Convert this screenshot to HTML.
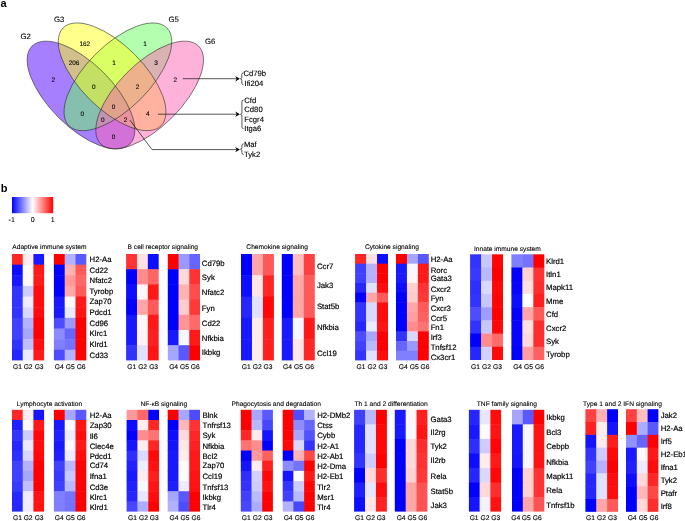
<!DOCTYPE html>
<html>
<head>
<meta charset="utf-8">
<title>Figure</title>
<style>
html,body{margin:0;padding:0;background:#fff;}
body{width:685px;height:521px;overflow:hidden;font-family:"Liberation Sans",sans-serif;}
svg{display:block;}
text{font-family:"Liberation Sans",sans-serif;fill:#000;text-rendering:geometricPrecision;}
svg{will-change:transform;}
.pl{font-size:11px;font-weight:bold;fill:#000;text-rendering:auto;}
.tt{font-size:6.65px;stroke:#000;stroke-width:0.1px;}
.gn{font-size:7.75px;stroke:#000;stroke-width:0.18px;}
.gl{font-size:6.7px;stroke:#000;stroke-width:0.14px;}
.vn{font-size:6.4px;stroke:#000;stroke-width:0.1px;}
.vl{font-size:7.8px;stroke:#000;stroke-width:0.08px;}
.vg{font-size:7.7px;stroke:#000;stroke-width:0.12px;}
.cb{font-size:7px;stroke:#000;stroke-width:0.08px;}
</style>
</head>
<body>
<svg width="685" height="521" viewBox="0 0 685 521">
<defs>
<linearGradient id="cbg" x1="0" x2="1" y1="0" y2="0">
<stop offset="0" stop-color="#0000ff"/><stop offset="0.5" stop-color="#ffffff"/><stop offset="1" stop-color="#ff0000"/>
</linearGradient>
</defs>
<rect x="0" y="0" width="685" height="521" fill="#fff"/>
<text class="pl" x="0.5" y="7">a</text>
<text class="pl" x="0.7" y="191.6">b</text>
<g id="venn">
<ellipse cx="81.0" cy="95.0" rx="69.2" ry="31.8" transform="rotate(45 81.0 95.0)" fill="#4b00ff" fill-opacity="0.5" stroke="none"/>
<ellipse cx="117.9" cy="76.8" rx="69.2" ry="31.8" transform="rotate(-45 117.9 76.8)" fill="#69ff5f" fill-opacity="0.5" stroke="none"/>
<ellipse cx="112.1" cy="76.8" rx="69.2" ry="31.8" transform="rotate(45 112.1 76.8)" fill="#ffff19" fill-opacity="0.5" stroke="none"/>
<ellipse cx="149.65" cy="95.0" rx="69.2" ry="31.8" transform="rotate(-45 149.65 95.0)" fill="#ff65b3" fill-opacity="0.5" stroke="none"/>
<ellipse cx="81.0" cy="95.0" rx="69.2" ry="31.8" transform="rotate(45 81.0 95.0)" fill="none" stroke="#222" stroke-width="0.55"/>
<ellipse cx="117.9" cy="76.8" rx="69.2" ry="31.8" transform="rotate(-45 117.9 76.8)" fill="none" stroke="#222" stroke-width="0.55"/>
<ellipse cx="112.1" cy="76.8" rx="69.2" ry="31.8" transform="rotate(45 112.1 76.8)" fill="none" stroke="#222" stroke-width="0.55"/>
<ellipse cx="149.65" cy="95.0" rx="69.2" ry="31.8" transform="rotate(-45 149.65 95.0)" fill="none" stroke="#222" stroke-width="0.55"/>
<text class="vn" x="84.8" y="46.4" text-anchor="middle">162</text>
<text class="vn" x="74" y="64.9" text-anchor="middle">206</text>
<text class="vn" x="53.4" y="82.1" text-anchor="middle">2</text>
<text class="vn" x="114" y="64.9" text-anchor="middle">1</text>
<text class="vn" x="145" y="46.4" text-anchor="middle">1</text>
<text class="vn" x="156" y="64.9" text-anchor="middle">3</text>
<text class="vn" x="93.7" y="89" text-anchor="middle">0</text>
<text class="vn" x="137.6" y="89" text-anchor="middle">2</text>
<text class="vn" x="113.6" y="108.8" text-anchor="middle">0</text>
<text class="vn" x="82.3" y="115.9" text-anchor="middle">0</text>
<text class="vn" x="147.7" y="115.9" text-anchor="middle">4</text>
<text class="vn" x="102.9" y="122.2" text-anchor="middle">0</text>
<text class="vn" x="125.6" y="122.2" text-anchor="middle">2</text>
<text class="vn" x="113.6" y="139.3" text-anchor="middle">0</text>
<text class="vn" x="175.2" y="82.1" text-anchor="middle">2</text>
<text class="vl" x="25.6" y="38.7" text-anchor="middle">G2</text>
<text class="vl" x="59.1" y="21.7" text-anchor="middle">G3</text>
<text class="vl" x="173.7" y="21.9" text-anchor="middle">G5</text>
<text class="vl" x="210.2" y="44" text-anchor="middle">G6</text>
<path d="M182.8 78.7 H237" fill="none" stroke="#111" stroke-width="0.7"/><path d="M239.9 78.7 l-4.7 -2.7 l1.5 2.7 l-1.5 2.7 z" fill="#000"/>
<path d="M158 114.2 H237" fill="none" stroke="#111" stroke-width="0.7"/><path d="M239.9 114.2 l-4.7 -2.7 l1.5 2.7 l-1.5 2.7 z" fill="#000"/>
<path d="M130 120.2 L152 149.6 H237" fill="none" stroke="#111" stroke-width="0.7"/><path d="M239.9 149.6 l-4.7 -2.7 l1.5 2.7 l-1.5 2.7 z" fill="#000"/>
<path d="M243.5 72.7 q-1.7 0.2 -1.7 1.9 V77.30000000000001 q0 1.3 -1.4 1.5 q1.4 0.2 1.4 1.5 V83.0 q0 1.7 1.7 1.9" fill="none" stroke="#111" stroke-width="0.7"/>
<path d="M243.6 100.0 q-1.7 0.2 -1.7 1.9 V112.9 q0 1.3 -1.4 1.5 q1.4 0.2 1.4 1.5 V126.9 q0 1.7 1.7 1.9" fill="none" stroke="#111" stroke-width="0.7"/>
<path d="M243.6 143.8 q-1.7 0.2 -1.7 1.9 V147.7 q0 1.3 -1.4 1.5 q1.4 0.2 1.4 1.5 V152.7 q0 1.7 1.7 1.9" fill="none" stroke="#111" stroke-width="0.7"/>
<text class="vg" x="243.4" y="75.95">Cd79b</text>
<text class="vg" x="244.6" y="85.75">Ifi204</text>
<text class="vg" x="244.3" y="102.85">Cfd</text>
<text class="vg" x="244.3" y="112.05">Cd80</text>
<text class="vg" x="244.3" y="121.65">Fcgr4</text>
<text class="vg" x="244.3" y="131.05">Itga6</text>
<text class="vg" x="243.9" y="147.45">Maf</text>
<text class="vg" x="244.0" y="157.25">Tyk2</text>
</g>
<g id="colorbar">
<rect x="12" y="197" width="41.2" height="16.2" fill="url(#cbg)"/>
<text class="cb" x="11.7" y="221.8" text-anchor="middle">-1</text>
<text class="cb" x="32.8" y="221.8" text-anchor="middle">0</text>
<text class="cb" x="52.8" y="221.8" text-anchor="middle">1</text>
</g>
<g id="heatmaps">
<g>
<text class="tt" x="49.4" y="249.25" text-anchor="middle">Adaptive immune system</text>
<g class="hm"><rect x="12" y="254" width="11.2" height="11.14" fill="#ff2626"/><rect x="22.7" y="254" width="11.2" height="11.14" fill="#ffebeb"/><rect x="33.4" y="254" width="10.7" height="11.14" fill="#1919ff"/><rect x="12" y="264.64" width="11.2" height="11.14" fill="#0d0dff"/><rect x="22.7" y="264.64" width="11.2" height="11.14" fill="#fffafa"/><rect x="33.4" y="264.64" width="10.7" height="11.14" fill="#ff1919"/><rect x="12" y="275.28" width="11.2" height="11.14" fill="#1919ff"/><rect x="22.7" y="275.28" width="11.2" height="11.14" fill="#fffafa"/><rect x="33.4" y="275.28" width="10.7" height="11.14" fill="#ff1919"/><rect x="12" y="285.92" width="11.2" height="11.14" fill="#3333ff"/><rect x="22.7" y="285.92" width="11.2" height="11.14" fill="#ccccff"/><rect x="33.4" y="285.92" width="10.7" height="11.14" fill="#ff0d0d"/><rect x="12" y="296.56" width="11.2" height="11.14" fill="#3333ff"/><rect x="22.7" y="296.56" width="11.2" height="11.14" fill="#ededff"/><rect x="33.4" y="296.56" width="10.7" height="11.14" fill="#ff0d0d"/><rect x="12" y="307.2" width="11.2" height="11.14" fill="#3333ff"/><rect x="22.7" y="307.2" width="11.2" height="11.14" fill="#d9d9ff"/><rect x="33.4" y="307.2" width="10.7" height="11.14" fill="#ff0d0d"/><rect x="12" y="317.84" width="11.2" height="11.14" fill="#4040ff"/><rect x="22.7" y="317.84" width="11.2" height="11.14" fill="#b2b2ff"/><rect x="33.4" y="317.84" width="10.7" height="11.14" fill="#ff0000"/><rect x="12" y="328.48" width="11.2" height="11.14" fill="#4040ff"/><rect x="22.7" y="328.48" width="11.2" height="11.14" fill="#a6a6ff"/><rect x="33.4" y="328.48" width="10.7" height="11.14" fill="#ff0000"/><rect x="12" y="339.12" width="11.2" height="11.14" fill="#3333ff"/><rect x="22.7" y="339.12" width="11.2" height="11.14" fill="#bfbfff"/><rect x="33.4" y="339.12" width="10.7" height="11.14" fill="#ff0d0d"/><rect x="12" y="349.76" width="11.2" height="10.64" fill="#2626ff"/><rect x="22.7" y="349.76" width="11.2" height="10.64" fill="#ebebff"/><rect x="33.4" y="349.76" width="10.7" height="10.64" fill="#ff1919"/><rect x="53.9" y="254" width="11.3" height="11.14" fill="#ff0000"/><rect x="64.7" y="254" width="11.3" height="11.14" fill="#b2b2ff"/><rect x="75.5" y="254" width="10.8" height="11.14" fill="#5959ff"/><rect x="53.9" y="264.64" width="11.3" height="11.14" fill="#0000ff"/><rect x="64.7" y="264.64" width="11.3" height="11.14" fill="#ffb2b2"/><rect x="75.5" y="264.64" width="10.8" height="11.14" fill="#ff5959"/><rect x="53.9" y="275.28" width="11.3" height="11.14" fill="#0000ff"/><rect x="64.7" y="275.28" width="11.3" height="11.14" fill="#ff9999"/><rect x="75.5" y="275.28" width="10.8" height="11.14" fill="#ff6666"/><rect x="53.9" y="285.92" width="11.3" height="11.14" fill="#0000ff"/><rect x="64.7" y="285.92" width="11.3" height="11.14" fill="#ffa6a6"/><rect x="75.5" y="285.92" width="10.8" height="11.14" fill="#ff5959"/><rect x="53.9" y="296.56" width="11.3" height="11.14" fill="#1919ff"/><rect x="64.7" y="296.56" width="11.3" height="11.14" fill="#fffafa"/><rect x="75.5" y="296.56" width="10.8" height="11.14" fill="#ff1919"/><rect x="53.9" y="307.2" width="11.3" height="11.14" fill="#1919ff"/><rect x="64.7" y="307.2" width="11.3" height="11.14" fill="#ebebff"/><rect x="75.5" y="307.2" width="10.8" height="11.14" fill="#ff1414"/><rect x="53.9" y="317.84" width="11.3" height="11.14" fill="#4d4dff"/><rect x="64.7" y="317.84" width="11.3" height="11.14" fill="#9999ff"/><rect x="75.5" y="317.84" width="10.8" height="11.14" fill="#ff0000"/><rect x="53.9" y="328.48" width="11.3" height="11.14" fill="#8c8cff"/><rect x="64.7" y="328.48" width="11.3" height="11.14" fill="#6666ff"/><rect x="75.5" y="328.48" width="10.8" height="11.14" fill="#ff0000"/><rect x="53.9" y="339.12" width="11.3" height="11.14" fill="#8080ff"/><rect x="64.7" y="339.12" width="11.3" height="11.14" fill="#7373ff"/><rect x="75.5" y="339.12" width="10.8" height="11.14" fill="#ff0000"/><rect x="53.9" y="349.76" width="11.3" height="10.64" fill="#4d4dff"/><rect x="64.7" y="349.76" width="11.3" height="10.64" fill="#b2b2ff"/><rect x="75.5" y="349.76" width="10.8" height="10.64" fill="#ff0000"/></g>
<text class="gn" x="89.55" y="262.47">H2-Aa</text>
<text class="gn" x="89.55" y="272.87">Cd22</text>
<text class="gn" x="89.55" y="282.97">Nfatc2</text>
<text class="gn" x="89.55" y="294.07">Tyrobp</text>
<text class="gn" x="89.55" y="304.47">Zap70</text>
<text class="gn" x="89.55" y="315.27">Pdcd1</text>
<text class="gn" x="89.55" y="325.57">Cd96</text>
<text class="gn" x="89.55" y="336.17">Klrc1</text>
<text class="gn" x="89.55" y="347.27">Klrd1</text>
<text class="gn" x="89.55" y="358.27">Cd33</text>
<text class="gl" x="17.4" y="369.2" text-anchor="middle">G1</text>
<text class="gl" x="28.1" y="369.2" text-anchor="middle">G2</text>
<text class="gl" x="39.1" y="369.2" text-anchor="middle">G3</text>
<text class="gl" x="59.2" y="369.2" text-anchor="middle">G4</text>
<text class="gl" x="70.2" y="369.2" text-anchor="middle">G5</text>
<text class="gl" x="81.1" y="369.2" text-anchor="middle">G6</text>
</g>
<g>
<text class="tt" x="162.8" y="249.25" text-anchor="middle">B cell receptor signaling</text>
<g class="hm"><rect x="126.1" y="254" width="11.37" height="15.7" fill="#ff3333"/><rect x="136.97" y="254" width="11.37" height="15.7" fill="#ffe0e0"/><rect x="147.83" y="254" width="10.87" height="15.7" fill="#0d0dff"/><rect x="126.1" y="269.2" width="11.37" height="15.7" fill="#0000ff"/><rect x="136.97" y="269.2" width="11.37" height="15.7" fill="#ff8c8c"/><rect x="147.83" y="269.2" width="10.87" height="15.7" fill="#ff6666"/><rect x="126.1" y="284.4" width="11.37" height="15.7" fill="#0d0dff"/><rect x="136.97" y="284.4" width="11.37" height="15.7" fill="#fff7f7"/><rect x="147.83" y="284.4" width="10.87" height="15.7" fill="#ff1919"/><rect x="126.1" y="299.6" width="11.37" height="15.7" fill="#0000ff"/><rect x="136.97" y="299.6" width="11.37" height="15.7" fill="#ffa6a6"/><rect x="147.83" y="299.6" width="10.87" height="15.7" fill="#ff5959"/><rect x="126.1" y="314.8" width="11.37" height="15.7" fill="#1919ff"/><rect x="136.97" y="314.8" width="11.37" height="15.7" fill="#fff7f7"/><rect x="147.83" y="314.8" width="10.87" height="15.7" fill="#ff1919"/><rect x="126.1" y="330" width="11.37" height="15.7" fill="#1919ff"/><rect x="136.97" y="330" width="11.37" height="15.7" fill="#fff2f2"/><rect x="147.83" y="330" width="10.87" height="15.7" fill="#ff1f1f"/><rect x="126.1" y="345.2" width="11.37" height="15.2" fill="#3333ff"/><rect x="136.97" y="345.2" width="11.37" height="15.2" fill="#e0e0ff"/><rect x="147.83" y="345.2" width="10.87" height="15.2" fill="#ff1414"/><rect x="167.8" y="254" width="11.23" height="15.7" fill="#ff0000"/><rect x="178.53" y="254" width="11.23" height="15.7" fill="#9999ff"/><rect x="189.27" y="254" width="10.73" height="15.7" fill="#6666ff"/><rect x="167.8" y="269.2" width="11.23" height="15.7" fill="#0000ff"/><rect x="178.53" y="269.2" width="11.23" height="15.7" fill="#ffd9d9"/><rect x="189.27" y="269.2" width="10.73" height="15.7" fill="#ff3333"/><rect x="167.8" y="284.4" width="11.23" height="15.7" fill="#0000ff"/><rect x="178.53" y="284.4" width="11.23" height="15.7" fill="#ffb2b2"/><rect x="189.27" y="284.4" width="10.73" height="15.7" fill="#ff4d4d"/><rect x="167.8" y="299.6" width="11.23" height="15.7" fill="#0000ff"/><rect x="178.53" y="299.6" width="11.23" height="15.7" fill="#ffcccc"/><rect x="189.27" y="299.6" width="10.73" height="15.7" fill="#ff3838"/><rect x="167.8" y="314.8" width="11.23" height="15.7" fill="#0000ff"/><rect x="178.53" y="314.8" width="11.23" height="15.7" fill="#ff9494"/><rect x="189.27" y="314.8" width="10.73" height="15.7" fill="#ff6b6b"/><rect x="167.8" y="330" width="11.23" height="15.7" fill="#1919ff"/><rect x="178.53" y="330" width="11.23" height="15.7" fill="#f7f7ff"/><rect x="189.27" y="330" width="10.73" height="15.7" fill="#ff1919"/><rect x="167.8" y="345.2" width="11.23" height="15.2" fill="#a6a6ff"/><rect x="178.53" y="345.2" width="11.23" height="15.2" fill="#5959ff"/><rect x="189.27" y="345.2" width="10.73" height="15.2" fill="#ff0000"/></g>
<text class="gn" x="201.85" y="266.47">Cd79b</text>
<text class="gn" x="201.85" y="279.97">Syk</text>
<text class="gn" x="201.85" y="294.67">Nfatc2</text>
<text class="gn" x="201.85" y="310.57">Fyn</text>
<text class="gn" x="201.85" y="326.47">Cd22</text>
<text class="gn" x="201.85" y="340.67">Nfkbia</text>
<text class="gn" x="201.85" y="355.37">Ikbkg</text>
<text class="gl" x="131.8" y="369.2" text-anchor="middle">G1</text>
<text class="gl" x="142.6" y="369.2" text-anchor="middle">G2</text>
<text class="gl" x="153.6" y="369.2" text-anchor="middle">G3</text>
<text class="gl" x="173.6" y="369.2" text-anchor="middle">G4</text>
<text class="gl" x="184.4" y="369.2" text-anchor="middle">G5</text>
<text class="gl" x="195.3" y="369.2" text-anchor="middle">G6</text>
</g>
<g>
<text class="tt" x="277.2" y="249.25" text-anchor="middle">Chemokine signaling</text>
<g class="hm"><rect x="241" y="254" width="11.47" height="21.78" fill="#0000ff"/><rect x="251.97" y="254" width="11.47" height="21.78" fill="#ffa6a6"/><rect x="262.93" y="254" width="10.97" height="21.78" fill="#ff5959"/><rect x="241" y="275.28" width="11.47" height="21.78" fill="#0d0dff"/><rect x="251.97" y="275.28" width="11.47" height="21.78" fill="#ffe6e6"/><rect x="262.93" y="275.28" width="10.97" height="21.78" fill="#ff2626"/><rect x="241" y="296.56" width="11.47" height="21.78" fill="#2626ff"/><rect x="251.97" y="296.56" width="11.47" height="21.78" fill="#e0e0ff"/><rect x="262.93" y="296.56" width="10.97" height="21.78" fill="#ff0808"/><rect x="241" y="317.84" width="11.47" height="21.78" fill="#1919ff"/><rect x="251.97" y="317.84" width="11.47" height="21.78" fill="#ffeded"/><rect x="262.93" y="317.84" width="10.97" height="21.78" fill="#ff1f1f"/><rect x="241" y="339.12" width="11.47" height="21.28" fill="#1919ff"/><rect x="251.97" y="339.12" width="11.47" height="21.28" fill="#ffeded"/><rect x="262.93" y="339.12" width="10.97" height="21.28" fill="#ff1f1f"/><rect x="281.8" y="254" width="11.5" height="21.78" fill="#0000ff"/><rect x="292.8" y="254" width="11.5" height="21.78" fill="#ffbfbf"/><rect x="303.8" y="254" width="11" height="21.78" fill="#ff4040"/><rect x="281.8" y="275.28" width="11.5" height="21.78" fill="#0000ff"/><rect x="292.8" y="275.28" width="11.5" height="21.78" fill="#ffa6a6"/><rect x="303.8" y="275.28" width="11" height="21.78" fill="#ff5959"/><rect x="281.8" y="296.56" width="11.5" height="21.78" fill="#0000ff"/><rect x="292.8" y="296.56" width="11.5" height="21.78" fill="#ffa6a6"/><rect x="303.8" y="296.56" width="11" height="21.78" fill="#ff5959"/><rect x="281.8" y="317.84" width="11.5" height="21.78" fill="#1919ff"/><rect x="292.8" y="317.84" width="11.5" height="21.78" fill="#f7f7ff"/><rect x="303.8" y="317.84" width="11" height="21.78" fill="#ff1919"/><rect x="281.8" y="339.12" width="11.5" height="21.28" fill="#1919ff"/><rect x="292.8" y="339.12" width="11.5" height="21.28" fill="#ffe6e6"/><rect x="303.8" y="339.12" width="11" height="21.28" fill="#ff2626"/></g>
<text class="gn" x="316.95" y="268.87">Ccr7</text>
<text class="gn" x="316.95" y="288.07">Jak3</text>
<text class="gn" x="316.95" y="309.07">Stat5b</text>
<text class="gn" x="316.95" y="330.07">Nfkbia</text>
<text class="gn" x="316.95" y="355.87">Ccl19</text>
<text class="gl" x="246.2" y="369.2" text-anchor="middle">G1</text>
<text class="gl" x="257.2" y="369.2" text-anchor="middle">G2</text>
<text class="gl" x="268" y="369.2" text-anchor="middle">G3</text>
<text class="gl" x="287.5" y="369.2" text-anchor="middle">G4</text>
<text class="gl" x="298.5" y="369.2" text-anchor="middle">G5</text>
<text class="gl" x="309.5" y="369.2" text-anchor="middle">G6</text>
</g>
<g>
<text class="tt" x="391.9" y="249.25" text-anchor="middle">Cytokine signaling</text>
<g class="hm"><rect x="355.1" y="254" width="11.47" height="10.17" fill="#ff2626"/><rect x="366.07" y="254" width="11.47" height="10.17" fill="#ffe0e0"/><rect x="377.03" y="254" width="10.97" height="10.17" fill="#0d0dff"/><rect x="355.1" y="263.67" width="11.47" height="10.17" fill="#4040ff"/><rect x="366.07" y="263.67" width="11.47" height="10.17" fill="#b2b2ff"/><rect x="377.03" y="263.67" width="10.97" height="10.17" fill="#ff0000"/><rect x="355.1" y="273.35" width="11.47" height="10.17" fill="#4040ff"/><rect x="366.07" y="273.35" width="11.47" height="10.17" fill="#b2b2ff"/><rect x="377.03" y="273.35" width="10.97" height="10.17" fill="#ff0000"/><rect x="355.1" y="283.02" width="11.47" height="10.17" fill="#2626ff"/><rect x="366.07" y="283.02" width="11.47" height="10.17" fill="#e0e0ff"/><rect x="377.03" y="283.02" width="10.97" height="10.17" fill="#ff0d0d"/><rect x="355.1" y="292.69" width="11.47" height="10.17" fill="#0000ff"/><rect x="366.07" y="292.69" width="11.47" height="10.17" fill="#ffa6a6"/><rect x="377.03" y="292.69" width="10.97" height="10.17" fill="#ff5959"/><rect x="355.1" y="302.36" width="11.47" height="10.17" fill="#3333ff"/><rect x="366.07" y="302.36" width="11.47" height="10.17" fill="#d9d9ff"/><rect x="377.03" y="302.36" width="10.97" height="10.17" fill="#ff0d0d"/><rect x="355.1" y="312.04" width="11.47" height="10.17" fill="#3333ff"/><rect x="366.07" y="312.04" width="11.47" height="10.17" fill="#d9d9ff"/><rect x="377.03" y="312.04" width="10.97" height="10.17" fill="#ff0d0d"/><rect x="355.1" y="321.71" width="11.47" height="10.17" fill="#2626ff"/><rect x="366.07" y="321.71" width="11.47" height="10.17" fill="#ebebff"/><rect x="377.03" y="321.71" width="10.97" height="10.17" fill="#ff1414"/><rect x="355.1" y="331.38" width="11.47" height="10.17" fill="#4d4dff"/><rect x="366.07" y="331.38" width="11.47" height="10.17" fill="#a6a6ff"/><rect x="377.03" y="331.38" width="10.97" height="10.17" fill="#ff0000"/><rect x="355.1" y="341.05" width="11.47" height="10.17" fill="#4040ff"/><rect x="366.07" y="341.05" width="11.47" height="10.17" fill="#b8b8ff"/><rect x="377.03" y="341.05" width="10.97" height="10.17" fill="#ff0000"/><rect x="355.1" y="350.73" width="11.47" height="9.67" fill="#3333ff"/><rect x="366.07" y="350.73" width="11.47" height="9.67" fill="#e0e0ff"/><rect x="377.03" y="350.73" width="10.97" height="9.67" fill="#ff0d0d"/><rect x="396" y="254" width="11.43" height="10.17" fill="#ff0000"/><rect x="406.93" y="254" width="11.43" height="10.17" fill="#a6a6ff"/><rect x="417.87" y="254" width="10.93" height="10.17" fill="#5959ff"/><rect x="396" y="263.67" width="11.43" height="10.17" fill="#1919ff"/><rect x="406.93" y="263.67" width="11.43" height="10.17" fill="#f7f7ff"/><rect x="417.87" y="263.67" width="10.93" height="10.17" fill="#ff1919"/><rect x="396" y="273.35" width="11.43" height="10.17" fill="#1919ff"/><rect x="406.93" y="273.35" width="11.43" height="10.17" fill="#fff7f7"/><rect x="417.87" y="273.35" width="10.93" height="10.17" fill="#ff1919"/><rect x="396" y="283.02" width="11.43" height="10.17" fill="#0d0dff"/><rect x="406.93" y="283.02" width="11.43" height="10.17" fill="#ffd1d1"/><rect x="417.87" y="283.02" width="10.93" height="10.17" fill="#ff3333"/><rect x="396" y="292.69" width="11.43" height="10.17" fill="#0000ff"/><rect x="406.93" y="292.69" width="11.43" height="10.17" fill="#ffcccc"/><rect x="417.87" y="292.69" width="10.93" height="10.17" fill="#ff3838"/><rect x="396" y="302.36" width="11.43" height="10.17" fill="#0000ff"/><rect x="406.93" y="302.36" width="11.43" height="10.17" fill="#ffa6a6"/><rect x="417.87" y="302.36" width="10.93" height="10.17" fill="#ff5959"/><rect x="396" y="312.04" width="11.43" height="10.17" fill="#0000ff"/><rect x="406.93" y="312.04" width="11.43" height="10.17" fill="#ff9e9e"/><rect x="417.87" y="312.04" width="10.93" height="10.17" fill="#ff6161"/><rect x="396" y="321.71" width="11.43" height="10.17" fill="#0000ff"/><rect x="406.93" y="321.71" width="11.43" height="10.17" fill="#ff8c8c"/><rect x="417.87" y="321.71" width="10.93" height="10.17" fill="#ff7373"/><rect x="396" y="331.38" width="11.43" height="10.17" fill="#3333ff"/><rect x="406.93" y="331.38" width="11.43" height="10.17" fill="#d9d9ff"/><rect x="417.87" y="331.38" width="10.93" height="10.17" fill="#ff0000"/><rect x="396" y="341.05" width="11.43" height="10.17" fill="#6666ff"/><rect x="406.93" y="341.05" width="11.43" height="10.17" fill="#9999ff"/><rect x="417.87" y="341.05" width="10.93" height="10.17" fill="#ff0000"/><rect x="396" y="350.73" width="11.43" height="9.67" fill="#8080ff"/><rect x="406.93" y="350.73" width="11.43" height="9.67" fill="#8080ff"/><rect x="417.87" y="350.73" width="10.93" height="9.67" fill="#ff0000"/></g>
<text class="gn" x="430.65" y="262.47">H2-Aa</text>
<text class="gn" x="430.65" y="272.67">Rorc</text>
<text class="gn" x="430.65" y="281.27">Gata3</text>
<text class="gn" x="430.65" y="291.67">Cxcr2</text>
<text class="gn" x="430.65" y="300.87">Fyn</text>
<text class="gn" x="430.65" y="310.57">Cxcr3</text>
<text class="gn" x="430.65" y="320.57">Ccr5</text>
<text class="gn" x="430.65" y="330.47">Fn1</text>
<text class="gn" x="430.65" y="339.57">Irf3</text>
<text class="gn" x="430.65" y="349.87">Tnfsf12</text>
<text class="gn" x="430.65" y="360.47">Cx3cr1</text>
<text class="gl" x="361" y="369.2" text-anchor="middle">G1</text>
<text class="gl" x="371.9" y="369.2" text-anchor="middle">G2</text>
<text class="gl" x="383" y="369.2" text-anchor="middle">G3</text>
<text class="gl" x="403.3" y="369.2" text-anchor="middle">G4</text>
<text class="gl" x="414.2" y="369.2" text-anchor="middle">G5</text>
<text class="gl" x="424.9" y="369.2" text-anchor="middle">G6</text>
</g>
<g>
<text class="tt" x="507.4" y="251.3" text-anchor="middle">Innate immune system</text>
<g class="hm"><rect x="470.1" y="254.3" width="11.47" height="13.71" fill="#3333ff"/><rect x="481.07" y="254.3" width="11.47" height="13.71" fill="#c7c7ff"/><rect x="492.03" y="254.3" width="10.97" height="13.71" fill="#ff0505"/><rect x="470.1" y="267.51" width="11.47" height="13.71" fill="#3838ff"/><rect x="481.07" y="267.51" width="11.47" height="13.71" fill="#b8b8ff"/><rect x="492.03" y="267.51" width="10.97" height="13.71" fill="#ff0000"/><rect x="470.1" y="280.73" width="11.47" height="13.71" fill="#2e2eff"/><rect x="481.07" y="280.73" width="11.47" height="13.71" fill="#d9d9ff"/><rect x="492.03" y="280.73" width="10.97" height="13.71" fill="#ff0808"/><rect x="470.1" y="293.94" width="11.47" height="13.71" fill="#3333ff"/><rect x="481.07" y="293.94" width="11.47" height="13.71" fill="#c7c7ff"/><rect x="492.03" y="293.94" width="10.97" height="13.71" fill="#ff0505"/><rect x="470.1" y="307.15" width="11.47" height="13.71" fill="#4d4dff"/><rect x="481.07" y="307.15" width="11.47" height="13.71" fill="#9e9eff"/><rect x="492.03" y="307.15" width="10.97" height="13.71" fill="#ff0000"/><rect x="470.1" y="320.36" width="11.47" height="13.71" fill="#3333ff"/><rect x="481.07" y="320.36" width="11.47" height="13.71" fill="#c7c7ff"/><rect x="492.03" y="320.36" width="10.97" height="13.71" fill="#ff0808"/><rect x="470.1" y="333.57" width="11.47" height="13.71" fill="#0000ff"/><rect x="481.07" y="333.57" width="11.47" height="13.71" fill="#ff8c8c"/><rect x="492.03" y="333.57" width="10.97" height="13.71" fill="#ff6b6b"/><rect x="470.1" y="346.79" width="11.47" height="13.21" fill="#2626ff"/><rect x="481.07" y="346.79" width="11.47" height="13.21" fill="#d1d1ff"/><rect x="492.03" y="346.79" width="10.97" height="13.21" fill="#ff0808"/><rect x="511.4" y="254.3" width="11.47" height="13.71" fill="#8080ff"/><rect x="522.37" y="254.3" width="11.47" height="13.71" fill="#7373ff"/><rect x="533.33" y="254.3" width="10.97" height="13.71" fill="#ff0000"/><rect x="511.4" y="267.51" width="11.47" height="13.71" fill="#0000ff"/><rect x="522.37" y="267.51" width="11.47" height="13.71" fill="#ffd1d1"/><rect x="533.33" y="267.51" width="10.97" height="13.71" fill="#ff3333"/><rect x="511.4" y="280.73" width="11.47" height="13.71" fill="#0505ff"/><rect x="522.37" y="280.73" width="11.47" height="13.71" fill="#ffe0e0"/><rect x="533.33" y="280.73" width="10.97" height="13.71" fill="#ff2e2e"/><rect x="511.4" y="293.94" width="11.47" height="13.71" fill="#0d0dff"/><rect x="522.37" y="293.94" width="11.47" height="13.71" fill="#ffffff"/><rect x="533.33" y="293.94" width="10.97" height="13.71" fill="#ff1f1f"/><rect x="511.4" y="307.15" width="11.47" height="13.71" fill="#0000ff"/><rect x="522.37" y="307.15" width="11.47" height="13.71" fill="#ffa6a6"/><rect x="533.33" y="307.15" width="10.97" height="13.71" fill="#ff5959"/><rect x="511.4" y="320.36" width="11.47" height="13.71" fill="#0505ff"/><rect x="522.37" y="320.36" width="11.47" height="13.71" fill="#ffe0e0"/><rect x="533.33" y="320.36" width="10.97" height="13.71" fill="#ff2e2e"/><rect x="511.4" y="333.57" width="11.47" height="13.71" fill="#0505ff"/><rect x="522.37" y="333.57" width="11.47" height="13.71" fill="#ffd9d9"/><rect x="533.33" y="333.57" width="10.97" height="13.71" fill="#ff2e2e"/><rect x="511.4" y="346.79" width="11.47" height="13.21" fill="#0000ff"/><rect x="522.37" y="346.79" width="11.47" height="13.21" fill="#ff9e9e"/><rect x="533.33" y="346.79" width="10.97" height="13.21" fill="#ff6161"/></g>
<text class="gn" x="546.05" y="263.77">Klrd1</text>
<text class="gn" x="546.05" y="276.57">Itln1</text>
<text class="gn" x="546.05" y="290.27">Mapk11</text>
<text class="gn" x="546.05" y="303.97">Mme</text>
<text class="gn" x="546.05" y="317.27">Cfd</text>
<text class="gn" x="546.05" y="331.37">Cxcr2</text>
<text class="gn" x="546.05" y="344.37">Syk</text>
<text class="gn" x="546.05" y="356.57">Tyrobp</text>
<text class="gl" x="475.5" y="369.2" text-anchor="middle">G1</text>
<text class="gl" x="486.5" y="369.2" text-anchor="middle">G2</text>
<text class="gl" x="497.4" y="369.2" text-anchor="middle">G3</text>
<text class="gl" x="517.6" y="369.2" text-anchor="middle">G4</text>
<text class="gl" x="528.5" y="369.2" text-anchor="middle">G5</text>
<text class="gl" x="539.5" y="369.2" text-anchor="middle">G6</text>
</g>
<g>
<text class="tt" x="49.5" y="406.3" text-anchor="middle">Lymphocyte activation</text>
<g class="hm"><rect x="12" y="409.8" width="11.2" height="10.68" fill="#ff2626"/><rect x="22.7" y="409.8" width="11.2" height="10.68" fill="#ffeded"/><rect x="33.4" y="409.8" width="10.7" height="10.68" fill="#1414ff"/><rect x="12" y="419.98" width="11.2" height="10.68" fill="#1f1fff"/><rect x="22.7" y="419.98" width="11.2" height="10.68" fill="#fffafa"/><rect x="33.4" y="419.98" width="10.7" height="10.68" fill="#ff1919"/><rect x="12" y="430.16" width="11.2" height="10.68" fill="#3333ff"/><rect x="22.7" y="430.16" width="11.2" height="10.68" fill="#ccccff"/><rect x="33.4" y="430.16" width="10.7" height="10.68" fill="#ff0808"/><rect x="12" y="440.34" width="11.2" height="10.68" fill="#2626ff"/><rect x="22.7" y="440.34" width="11.2" height="10.68" fill="#ebebff"/><rect x="33.4" y="440.34" width="10.7" height="10.68" fill="#ff0d0d"/><rect x="12" y="450.52" width="11.2" height="10.68" fill="#2e2eff"/><rect x="22.7" y="450.52" width="11.2" height="10.68" fill="#d9d9ff"/><rect x="33.4" y="450.52" width="10.7" height="10.68" fill="#ff0808"/><rect x="12" y="460.7" width="11.2" height="10.68" fill="#4040ff"/><rect x="22.7" y="460.7" width="11.2" height="10.68" fill="#b2b2ff"/><rect x="33.4" y="460.7" width="10.7" height="10.68" fill="#ff0000"/><rect x="12" y="470.88" width="11.2" height="10.68" fill="#4040ff"/><rect x="22.7" y="470.88" width="11.2" height="10.68" fill="#a6a6ff"/><rect x="33.4" y="470.88" width="10.7" height="10.68" fill="#ff0000"/><rect x="12" y="481.06" width="11.2" height="10.68" fill="#3838ff"/><rect x="22.7" y="481.06" width="11.2" height="10.68" fill="#bfbfff"/><rect x="33.4" y="481.06" width="10.7" height="10.68" fill="#ff0000"/><rect x="12" y="491.24" width="11.2" height="10.68" fill="#2626ff"/><rect x="22.7" y="491.24" width="11.2" height="10.68" fill="#ededff"/><rect x="33.4" y="491.24" width="10.7" height="10.68" fill="#ff1212"/><rect x="12" y="501.42" width="11.2" height="10.18" fill="#2626ff"/><rect x="22.7" y="501.42" width="11.2" height="10.18" fill="#ededff"/><rect x="33.4" y="501.42" width="10.7" height="10.18" fill="#ff1212"/><rect x="53.9" y="409.8" width="11.3" height="10.68" fill="#ff0000"/><rect x="64.7" y="409.8" width="11.3" height="10.68" fill="#a6a6ff"/><rect x="75.5" y="409.8" width="10.8" height="10.68" fill="#5959ff"/><rect x="53.9" y="419.98" width="11.3" height="10.68" fill="#1919ff"/><rect x="64.7" y="419.98" width="11.3" height="10.68" fill="#fafaff"/><rect x="75.5" y="419.98" width="10.8" height="10.68" fill="#ff1414"/><rect x="53.9" y="430.16" width="11.3" height="10.68" fill="#1f1fff"/><rect x="64.7" y="430.16" width="11.3" height="10.68" fill="#ededff"/><rect x="75.5" y="430.16" width="10.8" height="10.68" fill="#ff0d0d"/><rect x="53.9" y="440.34" width="11.3" height="10.68" fill="#1919ff"/><rect x="64.7" y="440.34" width="11.3" height="10.68" fill="#fffafa"/><rect x="75.5" y="440.34" width="10.8" height="10.68" fill="#ff1919"/><rect x="53.9" y="450.52" width="11.3" height="10.68" fill="#1f1fff"/><rect x="64.7" y="450.52" width="11.3" height="10.68" fill="#ededff"/><rect x="75.5" y="450.52" width="10.8" height="10.68" fill="#ff0d0d"/><rect x="53.9" y="460.7" width="11.3" height="10.68" fill="#4040ff"/><rect x="64.7" y="460.7" width="11.3" height="10.68" fill="#b8b8ff"/><rect x="75.5" y="460.7" width="10.8" height="10.68" fill="#ff0000"/><rect x="53.9" y="470.88" width="11.3" height="10.68" fill="#3838ff"/><rect x="64.7" y="470.88" width="11.3" height="10.68" fill="#c7c7ff"/><rect x="75.5" y="470.88" width="10.8" height="10.68" fill="#ff0000"/><rect x="53.9" y="481.06" width="11.3" height="10.68" fill="#4040ff"/><rect x="64.7" y="481.06" width="11.3" height="10.68" fill="#b8b8ff"/><rect x="75.5" y="481.06" width="10.8" height="10.68" fill="#ff0000"/><rect x="53.9" y="491.24" width="11.3" height="10.68" fill="#8080ff"/><rect x="64.7" y="491.24" width="11.3" height="10.68" fill="#7373ff"/><rect x="75.5" y="491.24" width="10.8" height="10.68" fill="#ff0000"/><rect x="53.9" y="501.42" width="11.3" height="10.18" fill="#8080ff"/><rect x="64.7" y="501.42" width="11.3" height="10.18" fill="#7373ff"/><rect x="75.5" y="501.42" width="10.8" height="10.18" fill="#ff0000"/></g>
<text class="gn" x="89.65" y="417.77">H2-Aa</text>
<text class="gn" x="89.65" y="428.27">Zap30</text>
<text class="gn" x="89.65" y="438.77">Il6</text>
<text class="gn" x="89.65" y="448.77">Clec4e</text>
<text class="gn" x="89.65" y="458.77">Pdcd1</text>
<text class="gn" x="89.65" y="468.37">Cd74</text>
<text class="gn" x="89.65" y="479.07">Ifna1</text>
<text class="gn" x="89.65" y="490.17">Cd3e</text>
<text class="gn" x="89.65" y="499.97">Klrc1</text>
<text class="gn" x="89.65" y="509.97">Klrd1</text>
<text class="gl" x="17.4" y="519.9" text-anchor="middle">G1</text>
<text class="gl" x="28.1" y="519.9" text-anchor="middle">G2</text>
<text class="gl" x="39.1" y="519.9" text-anchor="middle">G3</text>
<text class="gl" x="59.2" y="519.9" text-anchor="middle">G4</text>
<text class="gl" x="70.2" y="519.9" text-anchor="middle">G5</text>
<text class="gl" x="81.1" y="519.9" text-anchor="middle">G6</text>
</g>
<g>
<text class="tt" x="163.9" y="406.3" text-anchor="middle">NF-<tspan font-size="6.1">κ</tspan>B signaling</text>
<g class="hm"><rect x="126.6" y="409.8" width="11.33" height="10.68" fill="#ff9999"/><rect x="137.43" y="409.8" width="11.33" height="10.68" fill="#ff6666"/><rect x="148.27" y="409.8" width="10.83" height="10.68" fill="#0000ff"/><rect x="126.6" y="419.98" width="11.33" height="10.68" fill="#0d0dff"/><rect x="137.43" y="419.98" width="11.33" height="10.68" fill="#ffeded"/><rect x="148.27" y="419.98" width="10.83" height="10.68" fill="#ff2626"/><rect x="126.6" y="430.16" width="11.33" height="10.68" fill="#0000ff"/><rect x="137.43" y="430.16" width="11.33" height="10.68" fill="#ff8c8c"/><rect x="148.27" y="430.16" width="10.83" height="10.68" fill="#ff7373"/><rect x="126.6" y="440.34" width="11.33" height="10.68" fill="#1414ff"/><rect x="137.43" y="440.34" width="11.33" height="10.68" fill="#ffeded"/><rect x="148.27" y="440.34" width="10.83" height="10.68" fill="#ff2626"/><rect x="126.6" y="450.52" width="11.33" height="10.68" fill="#2e2eff"/><rect x="137.43" y="450.52" width="11.33" height="10.68" fill="#d9d9ff"/><rect x="148.27" y="450.52" width="10.83" height="10.68" fill="#ff0808"/><rect x="126.6" y="460.7" width="11.33" height="10.68" fill="#2121ff"/><rect x="137.43" y="460.7" width="11.33" height="10.68" fill="#ededff"/><rect x="148.27" y="460.7" width="10.83" height="10.68" fill="#ff1212"/><rect x="126.6" y="470.88" width="11.33" height="10.68" fill="#1919ff"/><rect x="137.43" y="470.88" width="11.33" height="10.68" fill="#ffeded"/><rect x="148.27" y="470.88" width="10.83" height="10.68" fill="#ff1f1f"/><rect x="126.6" y="481.06" width="11.33" height="10.68" fill="#1f1fff"/><rect x="137.43" y="481.06" width="11.33" height="10.68" fill="#f7f7ff"/><rect x="148.27" y="481.06" width="10.83" height="10.68" fill="#ff1414"/><rect x="126.6" y="491.24" width="11.33" height="10.68" fill="#2626ff"/><rect x="137.43" y="491.24" width="11.33" height="10.68" fill="#e6e6ff"/><rect x="148.27" y="491.24" width="10.83" height="10.68" fill="#ff0d0d"/><rect x="126.6" y="501.42" width="11.33" height="10.18" fill="#4747ff"/><rect x="137.43" y="501.42" width="11.33" height="10.18" fill="#adadff"/><rect x="148.27" y="501.42" width="10.83" height="10.18" fill="#ff0000"/><rect x="167.7" y="409.8" width="11.27" height="10.68" fill="#ff0000"/><rect x="178.47" y="409.8" width="11.27" height="10.68" fill="#a6a6ff"/><rect x="189.23" y="409.8" width="10.77" height="10.68" fill="#4d4dff"/><rect x="167.7" y="419.98" width="11.27" height="10.68" fill="#0000ff"/><rect x="178.47" y="419.98" width="11.27" height="10.68" fill="#ffb8b8"/><rect x="189.23" y="419.98" width="10.77" height="10.68" fill="#ff3333"/><rect x="167.7" y="430.16" width="11.27" height="10.68" fill="#0d0dff"/><rect x="178.47" y="430.16" width="11.27" height="10.68" fill="#ffd9d9"/><rect x="189.23" y="430.16" width="10.77" height="10.68" fill="#ff2626"/><rect x="167.7" y="440.34" width="11.27" height="10.68" fill="#1414ff"/><rect x="178.47" y="440.34" width="11.27" height="10.68" fill="#ffe6e6"/><rect x="189.23" y="440.34" width="10.77" height="10.68" fill="#ff2121"/><rect x="167.7" y="450.52" width="11.27" height="10.68" fill="#1919ff"/><rect x="178.47" y="450.52" width="11.27" height="10.68" fill="#ffeded"/><rect x="189.23" y="450.52" width="10.77" height="10.68" fill="#ff1919"/><rect x="167.7" y="460.7" width="11.27" height="10.68" fill="#1919ff"/><rect x="178.47" y="460.7" width="11.27" height="10.68" fill="#fffafa"/><rect x="189.23" y="460.7" width="10.77" height="10.68" fill="#ff1919"/><rect x="167.7" y="470.88" width="11.27" height="10.68" fill="#1919ff"/><rect x="178.47" y="470.88" width="11.27" height="10.68" fill="#fafaff"/><rect x="189.23" y="470.88" width="10.77" height="10.68" fill="#ff1414"/><rect x="167.7" y="481.06" width="11.27" height="10.68" fill="#1f1fff"/><rect x="178.47" y="481.06" width="11.27" height="10.68" fill="#ededff"/><rect x="189.23" y="481.06" width="10.77" height="10.68" fill="#ff1212"/><rect x="167.7" y="491.24" width="11.27" height="10.68" fill="#a6a6ff"/><rect x="178.47" y="491.24" width="11.27" height="10.68" fill="#5959ff"/><rect x="189.23" y="491.24" width="10.77" height="10.68" fill="#ff0000"/><rect x="167.7" y="501.42" width="11.27" height="10.18" fill="#b2b2ff"/><rect x="178.47" y="501.42" width="11.27" height="10.18" fill="#4d4dff"/><rect x="189.23" y="501.42" width="10.77" height="10.18" fill="#ff0000"/></g>
<text class="gn" x="202.45" y="417.77">Blnk</text>
<text class="gn" x="202.45" y="428.27">Tnfrsf13</text>
<text class="gn" x="202.45" y="438.27">Syk</text>
<text class="gn" x="202.45" y="449.37">Nfkbia</text>
<text class="gn" x="202.45" y="458.97">Bcl2</text>
<text class="gn" x="202.45" y="468.37">Zap70</text>
<text class="gn" x="202.45" y="479.47">Ccl19</text>
<text class="gn" x="202.45" y="489.77">Tnfsf13</text>
<text class="gn" x="202.45" y="499.77">Ikbkg</text>
<text class="gn" x="202.45" y="509.97">Tlr4</text>
<text class="gl" x="132.4" y="519.9" text-anchor="middle">G1</text>
<text class="gl" x="143.4" y="519.9" text-anchor="middle">G2</text>
<text class="gl" x="154.3" y="519.9" text-anchor="middle">G3</text>
<text class="gl" x="174" y="519.9" text-anchor="middle">G4</text>
<text class="gl" x="185" y="519.9" text-anchor="middle">G5</text>
<text class="gl" x="195.9" y="519.9" text-anchor="middle">G6</text>
</g>
<g>
<text class="tt" x="276.2" y="406.3" text-anchor="middle">Phagocytosis and degradation</text>
<g class="hm"><rect x="240.8" y="409.8" width="11.2" height="10.68" fill="#ff0000"/><rect x="251.5" y="409.8" width="11.2" height="10.68" fill="#a6a6ff"/><rect x="262.2" y="409.8" width="10.7" height="10.68" fill="#5959ff"/><rect x="240.8" y="419.98" width="11.2" height="10.68" fill="#ff0000"/><rect x="251.5" y="419.98" width="11.2" height="10.68" fill="#b8b8ff"/><rect x="262.2" y="419.98" width="10.7" height="10.68" fill="#4747ff"/><rect x="240.8" y="430.16" width="11.2" height="10.68" fill="#ff2626"/><rect x="251.5" y="430.16" width="11.2" height="10.68" fill="#ffebeb"/><rect x="262.2" y="430.16" width="10.7" height="10.68" fill="#1414ff"/><rect x="240.8" y="440.34" width="11.2" height="10.68" fill="#ff7373"/><rect x="251.5" y="440.34" width="11.2" height="10.68" fill="#ff8c8c"/><rect x="262.2" y="440.34" width="10.7" height="10.68" fill="#0000ff"/><rect x="240.8" y="450.52" width="11.2" height="10.68" fill="#0000ff"/><rect x="251.5" y="450.52" width="11.2" height="10.68" fill="#ff9999"/><rect x="262.2" y="450.52" width="10.7" height="10.68" fill="#ff6161"/><rect x="240.8" y="460.7" width="11.2" height="10.68" fill="#1414ff"/><rect x="251.5" y="460.7" width="11.2" height="10.68" fill="#ffeded"/><rect x="262.2" y="460.7" width="10.7" height="10.68" fill="#ff1f1f"/><rect x="240.8" y="470.88" width="11.2" height="10.68" fill="#2e2eff"/><rect x="251.5" y="470.88" width="11.2" height="10.68" fill="#d1d1ff"/><rect x="262.2" y="470.88" width="10.7" height="10.68" fill="#ff0808"/><rect x="240.8" y="481.06" width="11.2" height="10.68" fill="#3333ff"/><rect x="251.5" y="481.06" width="11.2" height="10.68" fill="#ccccff"/><rect x="262.2" y="481.06" width="10.7" height="10.68" fill="#ff1414"/><rect x="240.8" y="491.24" width="11.2" height="10.68" fill="#4040ff"/><rect x="251.5" y="491.24" width="11.2" height="10.68" fill="#babaff"/><rect x="262.2" y="491.24" width="10.7" height="10.68" fill="#ff0000"/><rect x="240.8" y="501.42" width="11.2" height="10.18" fill="#4747ff"/><rect x="251.5" y="501.42" width="11.2" height="10.18" fill="#adadff"/><rect x="262.2" y="501.42" width="10.7" height="10.18" fill="#ff0000"/><rect x="282.7" y="409.8" width="11.2" height="10.68" fill="#ff0000"/><rect x="293.4" y="409.8" width="11.2" height="10.68" fill="#4d4dff"/><rect x="304.1" y="409.8" width="10.7" height="10.68" fill="#b2b2ff"/><rect x="282.7" y="419.98" width="11.2" height="10.68" fill="#ff0000"/><rect x="293.4" y="419.98" width="11.2" height="10.68" fill="#8c8cff"/><rect x="304.1" y="419.98" width="10.7" height="10.68" fill="#6666ff"/><rect x="282.7" y="430.16" width="11.2" height="10.68" fill="#ff0000"/><rect x="293.4" y="430.16" width="11.2" height="10.68" fill="#a6a6ff"/><rect x="304.1" y="430.16" width="10.7" height="10.68" fill="#5252ff"/><rect x="282.7" y="440.34" width="11.2" height="10.68" fill="#ff0808"/><rect x="293.4" y="440.34" width="11.2" height="10.68" fill="#d9d9ff"/><rect x="304.1" y="440.34" width="10.7" height="10.68" fill="#3333ff"/><rect x="282.7" y="450.52" width="11.2" height="10.68" fill="#0000ff"/><rect x="293.4" y="450.52" width="11.2" height="10.68" fill="#ffb2b2"/><rect x="304.1" y="450.52" width="10.7" height="10.68" fill="#ff4747"/><rect x="282.7" y="460.7" width="11.2" height="10.68" fill="#8c8cff"/><rect x="293.4" y="460.7" width="11.2" height="10.68" fill="#7373ff"/><rect x="304.1" y="460.7" width="10.7" height="10.68" fill="#ff0000"/><rect x="282.7" y="470.88" width="11.2" height="10.68" fill="#1414ff"/><rect x="293.4" y="470.88" width="11.2" height="10.68" fill="#fffafa"/><rect x="304.1" y="470.88" width="10.7" height="10.68" fill="#ff1919"/><rect x="282.7" y="481.06" width="11.2" height="10.68" fill="#3333ff"/><rect x="293.4" y="481.06" width="11.2" height="10.68" fill="#ccccff"/><rect x="304.1" y="481.06" width="10.7" height="10.68" fill="#ff0505"/><rect x="282.7" y="491.24" width="11.2" height="10.68" fill="#4040ff"/><rect x="293.4" y="491.24" width="11.2" height="10.68" fill="#b8b8ff"/><rect x="304.1" y="491.24" width="10.7" height="10.68" fill="#ff0000"/><rect x="282.7" y="501.42" width="11.2" height="10.18" fill="#b2b2ff"/><rect x="293.4" y="501.42" width="11.2" height="10.18" fill="#4747ff"/><rect x="304.1" y="501.42" width="10.7" height="10.18" fill="#ff0000"/></g>
<text class="gn" x="317.15" y="417.97">H2-DMb2</text>
<text class="gn" x="317.15" y="428.07">Ctss</text>
<text class="gn" x="317.15" y="438.07">Cybb</text>
<text class="gn" x="317.15" y="448.57">H2-A1</text>
<text class="gn" x="317.15" y="458.97">H2-Ab1</text>
<text class="gn" x="317.15" y="468.97">H2-Dma</text>
<text class="gn" x="317.15" y="479.47">H2-Eb1</text>
<text class="gn" x="317.15" y="489.77">Tlr2</text>
<text class="gn" x="317.15" y="499.77">Msr1</text>
<text class="gn" x="317.15" y="509.97">Tlr4</text>
<text class="gl" x="246.2" y="519.9" text-anchor="middle">G1</text>
<text class="gl" x="257.2" y="519.9" text-anchor="middle">G2</text>
<text class="gl" x="268.1" y="519.9" text-anchor="middle">G3</text>
<text class="gl" x="288.1" y="519.9" text-anchor="middle">G4</text>
<text class="gl" x="299.1" y="519.9" text-anchor="middle">G5</text>
<text class="gl" x="310" y="519.9" text-anchor="middle">G6</text>
</g>
<g>
<text class="tt" x="391.1" y="406.3" text-anchor="middle">Th 1 and 2 differentiation</text>
<g class="hm"><rect x="354.1" y="409.8" width="11.43" height="15.04" fill="#4040ff"/><rect x="365.03" y="409.8" width="11.43" height="15.04" fill="#b8b8ff"/><rect x="375.97" y="409.8" width="10.93" height="15.04" fill="#ff0000"/><rect x="354.1" y="424.34" width="11.43" height="15.04" fill="#2626ff"/><rect x="365.03" y="424.34" width="11.43" height="15.04" fill="#e0e0ff"/><rect x="375.97" y="424.34" width="10.93" height="15.04" fill="#ff0808"/><rect x="354.1" y="438.89" width="11.43" height="15.04" fill="#2626ff"/><rect x="365.03" y="438.89" width="11.43" height="15.04" fill="#e0e0ff"/><rect x="375.97" y="438.89" width="10.93" height="15.04" fill="#ff0808"/><rect x="354.1" y="453.43" width="11.43" height="15.04" fill="#3333ff"/><rect x="365.03" y="453.43" width="11.43" height="15.04" fill="#ccccff"/><rect x="375.97" y="453.43" width="10.93" height="15.04" fill="#ff0000"/><rect x="354.1" y="467.97" width="11.43" height="15.04" fill="#0000ff"/><rect x="365.03" y="467.97" width="11.43" height="15.04" fill="#ffd9d9"/><rect x="375.97" y="467.97" width="10.93" height="15.04" fill="#ff2e2e"/><rect x="354.1" y="482.51" width="11.43" height="15.04" fill="#1f1fff"/><rect x="365.03" y="482.51" width="11.43" height="15.04" fill="#e6e6ff"/><rect x="375.97" y="482.51" width="10.93" height="15.04" fill="#ff0d0d"/><rect x="354.1" y="497.06" width="11.43" height="14.54" fill="#0d0dff"/><rect x="365.03" y="497.06" width="11.43" height="14.54" fill="#ffe6e6"/><rect x="375.97" y="497.06" width="10.93" height="14.54" fill="#ff2121"/><rect x="394.8" y="409.8" width="11.37" height="15.04" fill="#1919ff"/><rect x="405.67" y="409.8" width="11.37" height="15.04" fill="#fff7f7"/><rect x="416.53" y="409.8" width="10.87" height="15.04" fill="#ff1f1f"/><rect x="394.8" y="424.34" width="11.37" height="15.04" fill="#1919ff"/><rect x="405.67" y="424.34" width="11.37" height="15.04" fill="#f7f7ff"/><rect x="416.53" y="424.34" width="10.87" height="15.04" fill="#ff1414"/><rect x="394.8" y="438.89" width="11.37" height="15.04" fill="#0000ff"/><rect x="405.67" y="438.89" width="11.37" height="15.04" fill="#ffd9d9"/><rect x="416.53" y="438.89" width="10.87" height="15.04" fill="#ff2e2e"/><rect x="394.8" y="453.43" width="11.37" height="15.04" fill="#0000ff"/><rect x="405.67" y="453.43" width="11.37" height="15.04" fill="#ffd9d9"/><rect x="416.53" y="453.43" width="10.87" height="15.04" fill="#ff3333"/><rect x="394.8" y="467.97" width="11.37" height="15.04" fill="#0000ff"/><rect x="405.67" y="467.97" width="11.37" height="15.04" fill="#ffd1d1"/><rect x="416.53" y="467.97" width="10.87" height="15.04" fill="#ff3838"/><rect x="394.8" y="482.51" width="11.37" height="15.04" fill="#0000ff"/><rect x="405.67" y="482.51" width="11.37" height="15.04" fill="#ffa6a6"/><rect x="416.53" y="482.51" width="10.87" height="15.04" fill="#ff5252"/><rect x="394.8" y="497.06" width="11.37" height="14.54" fill="#0000ff"/><rect x="405.67" y="497.06" width="11.37" height="14.54" fill="#ffa6a6"/><rect x="416.53" y="497.06" width="10.87" height="14.54" fill="#ff5252"/></g>
<text class="gn" x="430.55" y="421.57">Gata3</text>
<text class="gn" x="430.55" y="435.17">Il2rg</text>
<text class="gn" x="430.55" y="449.37">Tyk2</text>
<text class="gn" x="430.55" y="463.47">Il2rb</text>
<text class="gn" x="430.55" y="479.07">Rela</text>
<text class="gn" x="430.55" y="493.77">Stat5b</text>
<text class="gn" x="430.55" y="507.97">Jak3</text>
<text class="gl" x="359.5" y="519.9" text-anchor="middle">G1</text>
<text class="gl" x="370.4" y="519.9" text-anchor="middle">G2</text>
<text class="gl" x="381.1" y="519.9" text-anchor="middle">G3</text>
<text class="gl" x="401.1" y="519.9" text-anchor="middle">G4</text>
<text class="gl" x="412" y="519.9" text-anchor="middle">G5</text>
<text class="gl" x="422.7" y="519.9" text-anchor="middle">G6</text>
</g>
<g>
<text class="tt" x="506.9" y="406.3" text-anchor="middle">TNF family signaling</text>
<g class="hm"><rect x="468.9" y="409.8" width="11.23" height="15.04" fill="#2626ff"/><rect x="479.63" y="409.8" width="11.23" height="15.04" fill="#e6e6ff"/><rect x="490.37" y="409.8" width="10.73" height="15.04" fill="#ff0d0d"/><rect x="468.9" y="424.34" width="11.23" height="15.04" fill="#1919ff"/><rect x="479.63" y="424.34" width="11.23" height="15.04" fill="#fafaff"/><rect x="490.37" y="424.34" width="10.73" height="15.04" fill="#ff1414"/><rect x="468.9" y="438.89" width="11.23" height="15.04" fill="#2e2eff"/><rect x="479.63" y="438.89" width="11.23" height="15.04" fill="#ccccff"/><rect x="490.37" y="438.89" width="10.73" height="15.04" fill="#ff0505"/><rect x="468.9" y="453.43" width="11.23" height="15.04" fill="#0d0dff"/><rect x="479.63" y="453.43" width="11.23" height="15.04" fill="#ffeded"/><rect x="490.37" y="453.43" width="10.73" height="15.04" fill="#ff1919"/><rect x="468.9" y="467.97" width="11.23" height="15.04" fill="#2626ff"/><rect x="479.63" y="467.97" width="11.23" height="15.04" fill="#d9d9ff"/><rect x="490.37" y="467.97" width="10.73" height="15.04" fill="#ff0808"/><rect x="468.9" y="482.51" width="11.23" height="15.04" fill="#0000ff"/><rect x="479.63" y="482.51" width="11.23" height="15.04" fill="#ffd9d9"/><rect x="490.37" y="482.51" width="10.73" height="15.04" fill="#ff2e2e"/><rect x="468.9" y="497.06" width="11.23" height="14.54" fill="#1414ff"/><rect x="479.63" y="497.06" width="11.23" height="14.54" fill="#f2f2ff"/><rect x="490.37" y="497.06" width="10.73" height="14.54" fill="#ff1212"/><rect x="512" y="409.8" width="11.27" height="15.04" fill="#a6a6ff"/><rect x="522.77" y="409.8" width="11.27" height="15.04" fill="#5959ff"/><rect x="533.53" y="409.8" width="10.77" height="15.04" fill="#ff0000"/><rect x="512" y="424.34" width="11.27" height="15.04" fill="#1919ff"/><rect x="522.77" y="424.34" width="11.27" height="15.04" fill="#f7f7ff"/><rect x="533.53" y="424.34" width="10.77" height="15.04" fill="#ff1414"/><rect x="512" y="438.89" width="11.27" height="15.04" fill="#1919ff"/><rect x="522.77" y="438.89" width="11.27" height="15.04" fill="#f7f7ff"/><rect x="533.53" y="438.89" width="10.77" height="15.04" fill="#ff1414"/><rect x="512" y="453.43" width="11.27" height="15.04" fill="#1414ff"/><rect x="522.77" y="453.43" width="11.27" height="15.04" fill="#f7f7ff"/><rect x="533.53" y="453.43" width="10.77" height="15.04" fill="#ff1414"/><rect x="512" y="467.97" width="11.27" height="15.04" fill="#0000ff"/><rect x="522.77" y="467.97" width="11.27" height="15.04" fill="#ffd1d1"/><rect x="533.53" y="467.97" width="10.77" height="15.04" fill="#ff3333"/><rect x="512" y="482.51" width="11.27" height="15.04" fill="#0000ff"/><rect x="522.77" y="482.51" width="11.27" height="15.04" fill="#ffd1d1"/><rect x="533.53" y="482.51" width="10.77" height="15.04" fill="#ff3333"/><rect x="512" y="497.06" width="11.27" height="14.54" fill="#0000ff"/><rect x="522.77" y="497.06" width="11.27" height="14.54" fill="#ffa6a6"/><rect x="533.53" y="497.06" width="10.77" height="14.54" fill="#ff5252"/></g>
<text class="gn" x="546.25" y="420.47">Ikbkg</text>
<text class="gn" x="546.25" y="434.97">Bcl3</text>
<text class="gn" x="546.25" y="448.97">Cebpb</text>
<text class="gn" x="546.25" y="464.97">Nfkbia</text>
<text class="gn" x="546.25" y="479.07">Mapk11</text>
<text class="gn" x="546.25" y="493.47">Rela</text>
<text class="gn" x="546.25" y="507.97">Tnfrsf1b</text>
<text class="gl" x="474.1" y="519.9" text-anchor="middle">G1</text>
<text class="gl" x="485" y="519.9" text-anchor="middle">G2</text>
<text class="gl" x="495.7" y="519.9" text-anchor="middle">G3</text>
<text class="gl" x="515.7" y="519.9" text-anchor="middle">G4</text>
<text class="gl" x="526.3" y="519.9" text-anchor="middle">G5</text>
<text class="gl" x="537.3" y="519.9" text-anchor="middle">G6</text>
</g>
<g>
<text class="tt" x="622.5" y="406.3" text-anchor="middle">Type 1 and 2 IFN signaling</text>
<g class="hm"><rect x="585.4" y="409.2" width="11.37" height="13.33" fill="#ff4040"/><rect x="596.27" y="409.2" width="11.37" height="13.33" fill="#ffb2b2"/><rect x="607.13" y="409.2" width="10.87" height="13.33" fill="#0000ff"/><rect x="585.4" y="422.02" width="11.37" height="13.33" fill="#ff2121"/><rect x="596.27" y="422.02" width="11.37" height="13.33" fill="#ffeded"/><rect x="607.13" y="422.02" width="10.87" height="13.33" fill="#1414ff"/><rect x="585.4" y="434.85" width="11.37" height="13.33" fill="#1414ff"/><rect x="596.27" y="434.85" width="11.37" height="13.33" fill="#ffeded"/><rect x="607.13" y="434.85" width="10.87" height="13.33" fill="#ff1f1f"/><rect x="585.4" y="447.68" width="11.37" height="13.33" fill="#3333ff"/><rect x="596.27" y="447.68" width="11.37" height="13.33" fill="#ccccff"/><rect x="607.13" y="447.68" width="10.87" height="13.33" fill="#ff0808"/><rect x="585.4" y="460.5" width="11.37" height="13.33" fill="#4040ff"/><rect x="596.27" y="460.5" width="11.37" height="13.33" fill="#b2b2ff"/><rect x="607.13" y="460.5" width="10.87" height="13.33" fill="#ff0000"/><rect x="585.4" y="473.32" width="11.37" height="13.33" fill="#2626ff"/><rect x="596.27" y="473.32" width="11.37" height="13.33" fill="#e0e0ff"/><rect x="607.13" y="473.32" width="10.87" height="13.33" fill="#ff0d0d"/><rect x="585.4" y="486.15" width="11.37" height="13.33" fill="#2626ff"/><rect x="596.27" y="486.15" width="11.37" height="13.33" fill="#e0e0ff"/><rect x="607.13" y="486.15" width="10.87" height="13.33" fill="#ff0d0d"/><rect x="585.4" y="498.98" width="11.37" height="12.83" fill="#0000ff"/><rect x="596.27" y="498.98" width="11.37" height="12.83" fill="#ffa6a6"/><rect x="607.13" y="498.98" width="10.87" height="12.83" fill="#ff5959"/><rect x="626" y="409.2" width="11.3" height="13.33" fill="#ff4040"/><rect x="636.8" y="409.2" width="11.3" height="13.33" fill="#ffbfbf"/><rect x="647.6" y="409.2" width="10.8" height="13.33" fill="#0000ff"/><rect x="626" y="422.02" width="11.3" height="13.33" fill="#ff0000"/><rect x="636.8" y="422.02" width="11.3" height="13.33" fill="#adadff"/><rect x="647.6" y="422.02" width="10.8" height="13.33" fill="#5959ff"/><rect x="626" y="434.85" width="11.3" height="13.33" fill="#9191ff"/><rect x="636.8" y="434.85" width="11.3" height="13.33" fill="#6666ff"/><rect x="647.6" y="434.85" width="10.8" height="13.33" fill="#ff0000"/><rect x="626" y="447.68" width="11.3" height="13.33" fill="#1919ff"/><rect x="636.8" y="447.68" width="11.3" height="13.33" fill="#fffafa"/><rect x="647.6" y="447.68" width="10.8" height="13.33" fill="#ff1919"/><rect x="626" y="460.5" width="11.3" height="13.33" fill="#1f1fff"/><rect x="636.8" y="460.5" width="11.3" height="13.33" fill="#ededff"/><rect x="647.6" y="460.5" width="10.8" height="13.33" fill="#ff0d0d"/><rect x="626" y="473.32" width="11.3" height="13.33" fill="#0d0dff"/><rect x="636.8" y="473.32" width="11.3" height="13.33" fill="#ffd9d9"/><rect x="647.6" y="473.32" width="10.8" height="13.33" fill="#ff2626"/><rect x="626" y="486.15" width="11.3" height="13.33" fill="#0000ff"/><rect x="636.8" y="486.15" width="11.3" height="13.33" fill="#ffb8b8"/><rect x="647.6" y="486.15" width="10.8" height="13.33" fill="#ff4747"/><rect x="626" y="498.98" width="11.3" height="12.83" fill="#0000ff"/><rect x="636.8" y="498.98" width="11.3" height="12.83" fill="#ffd9d9"/><rect x="647.6" y="498.98" width="10.8" height="12.83" fill="#ff2e2e"/></g>
<text class="gn" x="660.65" y="418.47">Jak2</text>
<text class="gn" x="660.65" y="430.97">H2-Aa</text>
<text class="gn" x="660.65" y="443.87">Irf5</text>
<text class="gn" x="660.65" y="457.17">H2-Eb1</text>
<text class="gn" x="660.65" y="470.17">Ifna1</text>
<text class="gn" x="660.65" y="483.47">Tyk2</text>
<text class="gn" x="660.65" y="495.97">Ptafr</text>
<text class="gn" x="660.65" y="509.07">Irf8</text>
<text class="gl" x="590.5" y="519.9" text-anchor="middle">G1</text>
<text class="gl" x="601.5" y="519.9" text-anchor="middle">G2</text>
<text class="gl" x="612.4" y="519.9" text-anchor="middle">G3</text>
<text class="gl" x="632.1" y="519.9" text-anchor="middle">G4</text>
<text class="gl" x="643.1" y="519.9" text-anchor="middle">G5</text>
<text class="gl" x="654" y="519.9" text-anchor="middle">G6</text>
</g>
</g>
</svg>
</body>
</html>
